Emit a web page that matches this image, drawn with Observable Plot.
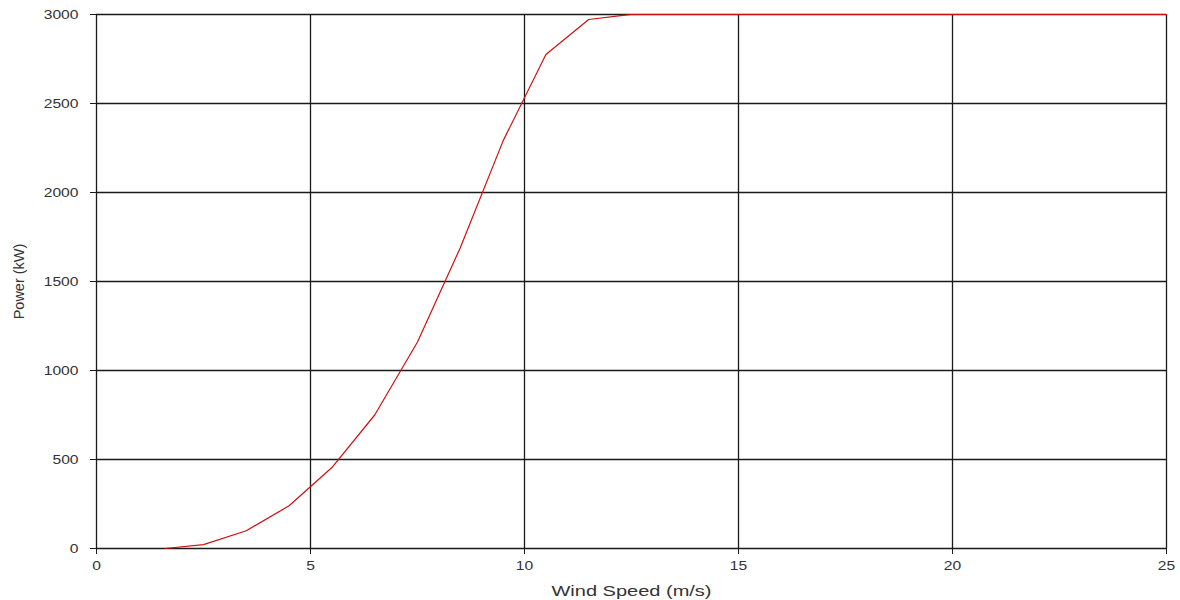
<!DOCTYPE html>
<html>
<head>
<meta charset="utf-8">
<script src="https://cdn.jsdelivr.net/npm/d3@7"></script>
<script src="https://cdn.jsdelivr.net/npm/@observablehq/plot@0.6"></script>
<style>
  html, body { margin: 0; padding: 0; background: #fff; }
  #chart { width: 1180px; height: 600px; }
</style>
</head>
<body>
<div id="chart"></div>
<script>
const windSpeed = [1.6, 2.5, 3.5, 4.5, 5.5, 6.5, 7.5, 8.5, 9.5, 10.5, 11.5, 12.3, 12.5, 25];
const power     = [0, 22, 100, 240, 455, 750, 1160, 1690, 2290, 2775, 2972, 2995, 3000, 3000];
const xTicks = [0, 5, 10, 15, 20, 25];
const yTicks = [0, 500, 1000, 1500, 2000, 2500, 3000];

const data = windSpeed.map((w, i) => ({ w, p: power[i] }));

const chart = Plot.plot({
  width: 1180,
  height: 600,
  marginLeft: 96,
  marginRight: 14,
  marginTop: 14,
  marginBottom: 52,
  style: { fontFamily: "'Liberation Sans', Arial, sans-serif", fontSize: "12.5px", color: "#333", background: "#fff" },
  x: { domain: [0, 25] },
  y: { domain: [0, 3000] },
  marks: [
    Plot.ruleX(xTicks, { stroke: "#1a1a1a", strokeWidth: 1.3 }),
    Plot.ruleY(yTicks, { stroke: "#1a1a1a", strokeWidth: 1.3 }),
    Plot.axisX({ ticks: xTicks, tickSize: 6, tickPadding: 7, stroke: "#1a1a1a", tickFormat: d3.format("d"),
      ariaLabel: "x-axis", label: null, fontSize: 12.5 }),
    Plot.axisY({ ticks: yTicks, tickSize: 6, tickPadding: 12, stroke: "#1a1a1a", tickFormat: d3.format("d"),
      ariaLabel: "y-axis", label: null, fontSize: 12.5 }),
    Plot.text(["Wind Speed (m/s)"], { frameAnchor: "bottom", dy: 43, fontSize: 15.5, fill: "#333", lineAnchor: "middle", className: "xlabel" }),
    Plot.text(["Power (kW)"], { frameAnchor: "left", dx: -77, rotate: -90, textAnchor: "middle", fontSize: 14.5, fill: "#333", lineAnchor: "middle", className: "ylabel" }),
    Plot.line(data, { x: "w", y: "p", stroke: "#cc1111", strokeWidth: 1.2 })
  ]
});
document.getElementById("chart").appendChild(chart);

// Widen glyphs to match the reference's stretched lettering
const svg = d3.select(chart);
svg.selectAll('g[aria-label="x-axis tick label"] text, g[aria-label="y-axis tick label"] text').each(function () {
  const len = this.getComputedTextLength();
  this.setAttribute("textLength", len * 1.25);
  this.setAttribute("lengthAdjust", "spacingAndGlyphs");
});
svg.selectAll(".xlabel text").each(function () {
  this.setAttribute("textLength", 160);
  this.setAttribute("lengthAdjust", "spacingAndGlyphs");
});
</script>
</body>
</html>
